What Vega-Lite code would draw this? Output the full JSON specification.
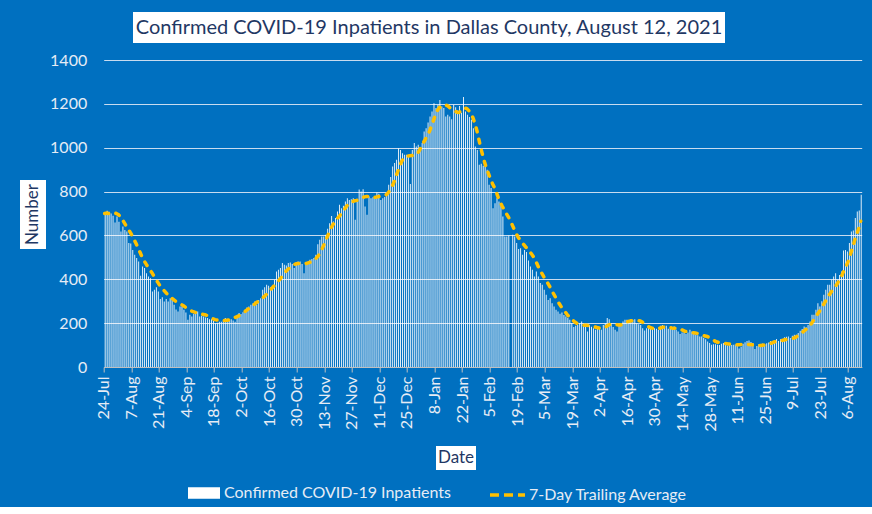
{
"$schema": "https://vega.github.io/schema/vega-lite/v6.json",
"background": "#0070C0",
"padding": {"left": 20, "top": 12, "right": 11, "bottom": 3},
"config": {"view": {"stroke": null}, "font": "Lato", "axis": {"labelOverlap": false}, "axisX": {"labelOverlap": false}},
"spacing": 9,
"datasets": {"covid": [
{"date":"2020-07-24","patients":705,"avg":700},{"date":"2020-07-25","patients":712,"avg":702},{"date":"2020-07-26","patients":708,"avg":700},{"date":"2020-07-27","patients":700,"avg":698},{"date":"2020-07-28","patients":690,"avg":700},{"date":"2020-07-29","patients":659,"avg":703},{"date":"2020-07-30","patients":686,"avg":700},{"date":"2020-07-31","patients":662,"avg":695},
{"date":"2020-08-01","patients":618,"avg":685},{"date":"2020-08-02","patients":641,"avg":672},{"date":"2020-08-03","patients":625,"avg":657},{"date":"2020-08-04","patients":618,"avg":642},{"date":"2020-08-05","patients":565,"avg":628},{"date":"2020-08-06","patients":563,"avg":614},{"date":"2020-08-07","patients":534,"avg":598},{"date":"2020-08-08","patients":512,"avg":580},{"date":"2020-08-09","patients":497,"avg":562},{"date":"2020-08-10","patients":481,"avg":542},{"date":"2020-08-11","patients":416,"avg":522},{"date":"2020-08-12","patients":458,"avg":502},{"date":"2020-08-13","patients":451,"avg":485},{"date":"2020-08-14","patients":428,"avg":470},{"date":"2020-08-15","patients":413,"avg":456},{"date":"2020-08-16","patients":405,"avg":443},{"date":"2020-08-17","patients":344,"avg":430},{"date":"2020-08-18","patients":352,"avg":415},{"date":"2020-08-19","patients":364,"avg":400},{"date":"2020-08-20","patients":344,"avg":386},{"date":"2020-08-21","patients":310,"avg":372},{"date":"2020-08-22","patients":318,"avg":362},{"date":"2020-08-23","patients":299,"avg":350},{"date":"2020-08-24","patients":310,"avg":340},{"date":"2020-08-25","patients":299,"avg":330},{"date":"2020-08-26","patients":314,"avg":322},{"date":"2020-08-27","patients":306,"avg":314},{"date":"2020-08-28","patients":284,"avg":307},{"date":"2020-08-29","patients":262,"avg":300},{"date":"2020-08-30","patients":253,"avg":295},{"date":"2020-08-31","patients":276,"avg":290},
{"date":"2020-09-01","patients":276,"avg":285},{"date":"2020-09-02","patients":261,"avg":279},{"date":"2020-09-03","patients":249,"avg":273},{"date":"2020-09-04","patients":215,"avg":267},{"date":"2020-09-05","patients":238,"avg":261},{"date":"2020-09-06","patients":230,"avg":256},{"date":"2020-09-07","patients":242,"avg":252},{"date":"2020-09-08","patients":249,"avg":249},{"date":"2020-09-09","patients":253,"avg":246},{"date":"2020-09-10","patients":230,"avg":244},{"date":"2020-09-11","patients":234,"avg":242},{"date":"2020-09-12","patients":230,"avg":240},{"date":"2020-09-13","patients":226,"avg":238},{"date":"2020-09-14","patients":223,"avg":235},{"date":"2020-09-15","patients":218,"avg":230},{"date":"2020-09-16","patients":218,"avg":225},{"date":"2020-09-17","patients":210,"avg":220},{"date":"2020-09-18","patients":200,"avg":216},{"date":"2020-09-19","patients":202,"avg":214},{"date":"2020-09-20","patients":206,"avg":212},{"date":"2020-09-21","patients":206,"avg":211},{"date":"2020-09-22","patients":212,"avg":211},{"date":"2020-09-23","patients":223,"avg":212},{"date":"2020-09-24","patients":218,"avg":213},{"date":"2020-09-25","patients":215,"avg":215},{"date":"2020-09-26","patients":218,"avg":218},{"date":"2020-09-27","patients":212,"avg":221},{"date":"2020-09-28","patients":206,"avg":225},{"date":"2020-09-29","patients":234,"avg":229},{"date":"2020-09-30","patients":246,"avg":233},
{"date":"2020-10-01","patients":242,"avg":238},{"date":"2020-10-02","patients":250,"avg":244},{"date":"2020-10-03","patients":261,"avg":251},{"date":"2020-10-04","patients":271,"avg":258},{"date":"2020-10-05","patients":276,"avg":265},{"date":"2020-10-06","patients":284,"avg":272},{"date":"2020-10-07","patients":290,"avg":279},{"date":"2020-10-08","patients":299,"avg":286},{"date":"2020-10-09","patients":284,"avg":293},{"date":"2020-10-10","patients":306,"avg":300},{"date":"2020-10-11","patients":314,"avg":307},{"date":"2020-10-12","patients":352,"avg":314},{"date":"2020-10-13","patients":364,"avg":321},{"date":"2020-10-14","patients":375,"avg":330},{"date":"2020-10-15","patients":370,"avg":340},{"date":"2020-10-16","patients":364,"avg":350},{"date":"2020-10-17","patients":357,"avg":360},{"date":"2020-10-18","patients":398,"avg":370},{"date":"2020-10-19","patients":436,"avg":380},{"date":"2020-10-20","patients":443,"avg":390},{"date":"2020-10-21","patients":451,"avg":400},{"date":"2020-10-22","patients":474,"avg":412},{"date":"2020-10-23","patients":466,"avg":424},{"date":"2020-10-24","patients":463,"avg":436},{"date":"2020-10-25","patients":474,"avg":445},{"date":"2020-10-26","patients":477,"avg":453},{"date":"2020-10-27","patients":470,"avg":460},{"date":"2020-10-28","patients":451,"avg":466},{"date":"2020-10-29","patients":475,"avg":470},{"date":"2020-10-30","patients":481,"avg":472},{"date":"2020-10-31","patients":481,"avg":472},
{"date":"2020-11-01","patients":470,"avg":471},{"date":"2020-11-02","patients":428,"avg":470},{"date":"2020-11-03","patients":474,"avg":471},{"date":"2020-11-04","patients":477,"avg":474},{"date":"2020-11-05","patients":489,"avg":477},{"date":"2020-11-06","patients":492,"avg":480},{"date":"2020-11-07","patients":497,"avg":485},{"date":"2020-11-08","patients":512,"avg":492},{"date":"2020-11-09","patients":560,"avg":502},{"date":"2020-11-10","patients":580,"avg":513},{"date":"2020-11-11","patients":595,"avg":530},{"date":"2020-11-12","patients":595,"avg":550},{"date":"2020-11-13","patients":603,"avg":570},{"date":"2020-11-14","patients":630,"avg":592},{"date":"2020-11-15","patients":656,"avg":614},{"date":"2020-11-16","patients":689,"avg":634},{"date":"2020-11-17","patients":663,"avg":650},{"date":"2020-11-18","patients":679,"avg":664},{"date":"2020-11-19","patients":709,"avg":676},{"date":"2020-11-20","patients":740,"avg":686},{"date":"2020-11-21","patients":724,"avg":697},{"date":"2020-11-22","patients":735,"avg":710},{"date":"2020-11-23","patients":755,"avg":722},{"date":"2020-11-24","patients":770,"avg":735},{"date":"2020-11-25","patients":762,"avg":746},{"date":"2020-11-26","patients":765,"avg":752},{"date":"2020-11-27","patients":770,"avg":755},{"date":"2020-11-28","patients":671,"avg":758},{"date":"2020-11-29","patients":755,"avg":760},{"date":"2020-11-30","patients":809,"avg":763},
{"date":"2020-12-01","patients":800,"avg":767},{"date":"2020-12-02","patients":811,"avg":772},{"date":"2020-12-03","patients":732,"avg":776},{"date":"2020-12-04","patients":694,"avg":778},{"date":"2020-12-05","patients":778,"avg":778},{"date":"2020-12-06","patients":770,"avg":776},{"date":"2020-12-07","patients":774,"avg":774},{"date":"2020-12-08","patients":778,"avg":774},{"date":"2020-12-09","patients":796,"avg":775},{"date":"2020-12-10","patients":790,"avg":777},{"date":"2020-12-11","patients":762,"avg":779},{"date":"2020-12-12","patients":770,"avg":781},{"date":"2020-12-13","patients":775,"avg":783},{"date":"2020-12-14","patients":782,"avg":786},{"date":"2020-12-15","patients":831,"avg":795},{"date":"2020-12-16","patients":866,"avg":808},{"date":"2020-12-17","patients":914,"avg":823},{"date":"2020-12-18","patients":930,"avg":845},{"date":"2020-12-19","patients":945,"avg":870},{"date":"2020-12-20","patients":998,"avg":895},{"date":"2020-12-21","patients":990,"avg":920},{"date":"2020-12-22","patients":975,"avg":940},{"date":"2020-12-23","patients":968,"avg":955},{"date":"2020-12-24","patients":968,"avg":960},{"date":"2020-12-25","patients":960,"avg":962},{"date":"2020-12-26","patients":834,"avg":963},{"date":"2020-12-27","patients":990,"avg":964},{"date":"2020-12-28","patients":1021,"avg":965},{"date":"2020-12-29","patients":1006,"avg":967},{"date":"2020-12-30","patients":1013,"avg":975},{"date":"2020-12-31","patients":998,"avg":990},
{"date":"2021-01-01","patients":1021,"avg":1010},{"date":"2021-01-02","patients":1074,"avg":1025},{"date":"2021-01-03","patients":1089,"avg":1040},{"date":"2021-01-04","patients":1115,"avg":1058},{"date":"2021-01-05","patients":1142,"avg":1075},{"date":"2021-01-06","patients":1165,"avg":1100},{"date":"2021-01-07","patients":1203,"avg":1125},{"date":"2021-01-08","patients":1181,"avg":1150},{"date":"2021-01-09","patients":1196,"avg":1170},{"date":"2021-01-10","patients":1218,"avg":1183},{"date":"2021-01-11","patients":1188,"avg":1190},{"date":"2021-01-12","patients":1181,"avg":1194},{"date":"2021-01-13","patients":1142,"avg":1196},{"date":"2021-01-14","patients":1150,"avg":1192},{"date":"2021-01-15","patients":1142,"avg":1185},{"date":"2021-01-16","patients":1130,"avg":1177},{"date":"2021-01-17","patients":1196,"avg":1170},{"date":"2021-01-18","patients":1185,"avg":1166},{"date":"2021-01-19","patients":1170,"avg":1162},{"date":"2021-01-20","patients":1190,"avg":1161},{"date":"2021-01-21","patients":1160,"avg":1168},{"date":"2021-01-22","patients":1231,"avg":1178},{"date":"2021-01-23","patients":1165,"avg":1181},{"date":"2021-01-24","patients":1150,"avg":1178},{"date":"2021-01-25","patients":1140,"avg":1168},{"date":"2021-01-26","patients":1127,"avg":1155},{"date":"2021-01-27","patients":1089,"avg":1138},{"date":"2021-01-28","patients":1006,"avg":1112},{"date":"2021-01-29","patients":990,"avg":1080},{"date":"2021-01-30","patients":922,"avg":1040},{"date":"2021-01-31","patients":927,"avg":1000},
{"date":"2021-02-01","patients":918,"avg":965},{"date":"2021-02-02","patients":933,"avg":932},{"date":"2021-02-03","patients":899,"avg":905},{"date":"2021-02-04","patients":831,"avg":880},{"date":"2021-02-05","patients":816,"avg":858},{"date":"2021-02-06","patients":724,"avg":836},{"date":"2021-02-07","patients":747,"avg":818},{"date":"2021-02-08","patients":770,"avg":795},{"date":"2021-02-09","patients":755,"avg":770},{"date":"2021-02-10","patients":740,"avg":750},{"date":"2021-02-11","patients":686,"avg":732},{"date":"2021-02-12","patients":595,"avg":716},{"date":"2021-02-13","patients":595,"avg":700},{"date":"2021-02-14","patients":600,"avg":685},{"date":"2021-02-15","patients":null,"avg":668},{"date":"2021-02-16","patients":603,"avg":648},{"date":"2021-02-17","patients":595,"avg":628},{"date":"2021-02-18","patients":565,"avg":608},{"date":"2021-02-19","patients":538,"avg":592},{"date":"2021-02-20","patients":542,"avg":580},{"date":"2021-02-21","patients":512,"avg":568},{"date":"2021-02-22","patients":534,"avg":557},{"date":"2021-02-23","patients":525,"avg":546},{"date":"2021-02-24","patients":486,"avg":535},{"date":"2021-02-25","patients":458,"avg":524},{"date":"2021-02-26","patients":443,"avg":513},{"date":"2021-02-27","patients":413,"avg":500},{"date":"2021-02-28","patients":436,"avg":482},
{"date":"2021-03-01","patients":413,"avg":462},{"date":"2021-03-02","patients":383,"avg":443},{"date":"2021-03-03","patients":375,"avg":428},{"date":"2021-03-04","patients":352,"avg":412},{"date":"2021-03-05","patients":329,"avg":397},{"date":"2021-03-06","patients":306,"avg":383},{"date":"2021-03-07","patients":314,"avg":368},{"date":"2021-03-08","patients":291,"avg":350},{"date":"2021-03-09","patients":276,"avg":334},{"date":"2021-03-10","patients":261,"avg":318},{"date":"2021-03-11","patients":253,"avg":302},{"date":"2021-03-12","patients":243,"avg":287},{"date":"2021-03-13","patients":249,"avg":273},{"date":"2021-03-14","patients":237,"avg":262},{"date":"2021-03-15","patients":230,"avg":250},{"date":"2021-03-16","patients":223,"avg":238},{"date":"2021-03-17","patients":215,"avg":228},{"date":"2021-03-18","patients":200,"avg":219},{"date":"2021-03-19","patients":182,"avg":211},{"date":"2021-03-20","patients":188,"avg":204},{"date":"2021-03-21","patients":192,"avg":198},{"date":"2021-03-22","patients":200,"avg":194},{"date":"2021-03-23","patients":208,"avg":192},{"date":"2021-03-24","patients":200,"avg":191},{"date":"2021-03-25","patients":182,"avg":190},{"date":"2021-03-26","patients":162,"avg":190},{"date":"2021-03-27","patients":192,"avg":189},{"date":"2021-03-28","patients":183,"avg":188},{"date":"2021-03-29","patients":177,"avg":186},{"date":"2021-03-30","patients":170,"avg":183},{"date":"2021-03-31","patients":177,"avg":180},
{"date":"2021-04-01","patients":177,"avg":178},{"date":"2021-04-02","patients":170,"avg":177},{"date":"2021-04-03","patients":192,"avg":177},{"date":"2021-04-04","patients":200,"avg":180},{"date":"2021-04-05","patients":223,"avg":186},{"date":"2021-04-06","patients":218,"avg":192},{"date":"2021-04-07","patients":200,"avg":195},{"date":"2021-04-08","patients":182,"avg":196},{"date":"2021-04-09","patients":170,"avg":195},{"date":"2021-04-10","patients":162,"avg":193},{"date":"2021-04-11","patients":192,"avg":192},{"date":"2021-04-12","patients":200,"avg":192},{"date":"2021-04-13","patients":208,"avg":195},{"date":"2021-04-14","patients":215,"avg":200},{"date":"2021-04-15","patients":215,"avg":205},{"date":"2021-04-16","patients":208,"avg":208},{"date":"2021-04-17","patients":218,"avg":210},{"date":"2021-04-18","patients":215,"avg":211},{"date":"2021-04-19","patients":218,"avg":212},{"date":"2021-04-20","patients":200,"avg":212},{"date":"2021-04-21","patients":195,"avg":211},{"date":"2021-04-22","patients":192,"avg":210},{"date":"2021-04-23","patients":177,"avg":205},{"date":"2021-04-24","patients":167,"avg":198},{"date":"2021-04-25","patients":177,"avg":191},{"date":"2021-04-26","patients":182,"avg":185},{"date":"2021-04-27","patients":177,"avg":180},{"date":"2021-04-28","patients":170,"avg":177},{"date":"2021-04-29","patients":177,"avg":175},{"date":"2021-04-30","patients":175,"avg":173},
{"date":"2021-05-01","patients":170,"avg":174},{"date":"2021-05-02","patients":188,"avg":177},{"date":"2021-05-03","patients":192,"avg":180},{"date":"2021-05-04","patients":182,"avg":182},{"date":"2021-05-05","patients":188,"avg":183},{"date":"2021-05-06","patients":175,"avg":182},{"date":"2021-05-07","patients":173,"avg":180},{"date":"2021-05-08","patients":177,"avg":178},{"date":"2021-05-09","patients":185,"avg":177},{"date":"2021-05-10","patients":170,"avg":177},{"date":"2021-05-11","patients":162,"avg":177},{"date":"2021-05-12","patients":151,"avg":174},{"date":"2021-05-13","patients":157,"avg":170},{"date":"2021-05-14","patients":157,"avg":166},{"date":"2021-05-15","patients":151,"avg":162},{"date":"2021-05-16","patients":157,"avg":160},{"date":"2021-05-17","patients":170,"avg":158},{"date":"2021-05-18","patients":162,"avg":157},{"date":"2021-05-19","patients":157,"avg":156},{"date":"2021-05-20","patients":147,"avg":155},{"date":"2021-05-21","patients":145,"avg":153},{"date":"2021-05-22","patients":139,"avg":150},{"date":"2021-05-23","patients":139,"avg":147},{"date":"2021-05-24","patients":132,"avg":144},{"date":"2021-05-25","patients":127,"avg":141},{"date":"2021-05-26","patients":116,"avg":139},{"date":"2021-05-27","patients":109,"avg":135},{"date":"2021-05-28","patients":101,"avg":130},{"date":"2021-05-29","patients":104,"avg":124},{"date":"2021-05-30","patients":104,"avg":118},{"date":"2021-05-31","patients":101,"avg":114},
{"date":"2021-06-01","patients":100,"avg":112},{"date":"2021-06-02","patients":106,"avg":110},{"date":"2021-06-03","patients":109,"avg":108},{"date":"2021-06-04","patients":104,"avg":107},{"date":"2021-06-05","patients":98,"avg":106},{"date":"2021-06-06","patients":106,"avg":105},{"date":"2021-06-07","patients":100,"avg":104},{"date":"2021-06-08","patients":102,"avg":103},{"date":"2021-06-09","patients":103,"avg":102},{"date":"2021-06-10","patients":99,"avg":101},{"date":"2021-06-11","patients":84,"avg":101},{"date":"2021-06-12","patients":92,"avg":102},{"date":"2021-06-13","patients":106,"avg":103},{"date":"2021-06-14","patients":113,"avg":103},{"date":"2021-06-15","patients":118,"avg":103},{"date":"2021-06-16","patients":121,"avg":103},{"date":"2021-06-17","patients":114,"avg":102},{"date":"2021-06-18","patients":110,"avg":101},{"date":"2021-06-19","patients":82,"avg":99},{"date":"2021-06-20","patients":96,"avg":98},{"date":"2021-06-21","patients":104,"avg":98},{"date":"2021-06-22","patients":103,"avg":98},{"date":"2021-06-23","patients":107,"avg":99},{"date":"2021-06-24","patients":104,"avg":100},{"date":"2021-06-25","patients":108,"avg":102},{"date":"2021-06-26","patients":112,"avg":104},{"date":"2021-06-27","patients":118,"avg":107},{"date":"2021-06-28","patients":119,"avg":110},{"date":"2021-06-29","patients":123,"avg":114},{"date":"2021-06-30","patients":128,"avg":117},
{"date":"2021-07-01","patients":118,"avg":119},{"date":"2021-07-02","patients":126,"avg":120},{"date":"2021-07-03","patients":128,"avg":121},{"date":"2021-07-04","patients":136,"avg":123},{"date":"2021-07-05","patients":138,"avg":125},{"date":"2021-07-06","patients":139,"avg":126},{"date":"2021-07-07","patients":132,"avg":127},{"date":"2021-07-08","patients":142,"avg":129},{"date":"2021-07-09","patients":147,"avg":132},{"date":"2021-07-10","patients":147,"avg":136},{"date":"2021-07-11","patients":155,"avg":142},{"date":"2021-07-12","patients":165,"avg":148},{"date":"2021-07-13","patients":173,"avg":155},{"date":"2021-07-14","patients":185,"avg":163},{"date":"2021-07-15","patients":181,"avg":170},{"date":"2021-07-16","patients":192,"avg":178},{"date":"2021-07-17","patients":208,"avg":186},{"date":"2021-07-18","patients":238,"avg":198},{"date":"2021-07-19","patients":238,"avg":212},{"date":"2021-07-20","patients":261,"avg":226},{"date":"2021-07-21","patients":291,"avg":240},{"date":"2021-07-22","patients":276,"avg":253},{"date":"2021-07-23","patients":300,"avg":268},{"date":"2021-07-24","patients":329,"avg":283},{"date":"2021-07-25","patients":352,"avg":298},{"date":"2021-07-26","patients":375,"avg":314},{"date":"2021-07-27","patients":375,"avg":329},{"date":"2021-07-28","patients":398,"avg":342},{"date":"2021-07-29","patients":413,"avg":354},{"date":"2021-07-30","patients":428,"avg":366},{"date":"2021-07-31","patients":398,"avg":378},
{"date":"2021-08-01","patients":420,"avg":395},{"date":"2021-08-02","patients":436,"avg":408},{"date":"2021-08-03","patients":531,"avg":430},{"date":"2021-08-04","patients":534,"avg":450},{"date":"2021-08-05","patients":527,"avg":468},{"date":"2021-08-06","patients":565,"avg":490},{"date":"2021-08-07","patients":618,"avg":520},{"date":"2021-08-08","patients":622,"avg":548},{"date":"2021-08-09","patients":679,"avg":580},{"date":"2021-08-10","patients":709,"avg":606},{"date":"2021-08-11","patients":714,"avg":632},{"date":"2021-08-12","patients":785,"avg":665}
]},
"vconcat": [
 {"spacing": 112, "hconcat": [
   {"width": 1, "height": 31, "data": {"values": [{"s": ""}]}, "mark": "text", "encoding": {"text": {"field": "s"}}},
   {"width": 592, "height": 31, "view": {"fill": "white", "stroke": null},
    "data": {"values": [{"label": "Confirmed COVID-19 Inpatients in Dallas County, August 12, 2021"}]},
    "mark": {"type": "text", "font": "Lato", "fontSize": 20, "color": "#1F3864"},
    "encoding": {"text": {"field": "label"}}}
 ]},
 {"spacing": 14, "vconcat": [
   {"spacing": 2.7, "hconcat": [
     {"spacing": 0, "vconcat": [
       {"width": 26, "height": 120, "data": {"values": [{"s": ""}]}, "mark": "text", "encoding": {"text": {"field": "s"}}},
       {"width": 26, "height": 69, "view": {"fill": "white", "stroke": null},
        "data": {"values": [{"label": "Number"}]},
        "mark": {"type": "text", "font": "Lato", "fontSize": 17, "angle": 270, "color": "#1F3864"},
        "encoding": {"text": {"field": "label"}}}
     ]},
     {"width": 758, "height": 307,
      "data": {"name": "covid"},
      "encoding": {
        "x": {"field": "date", "type": "temporal", "timeUnit": "utcyearmonthdate",
              "scale": {"domain": [{"year": 2020, "month": 7, "date": 24, "utc": true}, {"year": 2021, "month": 8, "date": 13, "utc": true}], "nice": false},
              "axis": {"title": null, "grid": false,
                "values": [
                  {"year":2020,"month":7,"date":24,"utc":true},{"year":2020,"month":8,"date":7,"utc":true},{"year":2020,"month":8,"date":21,"utc":true},{"year":2020,"month":9,"date":4,"utc":true},{"year":2020,"month":9,"date":18,"utc":true},{"year":2020,"month":10,"date":2,"utc":true},{"year":2020,"month":10,"date":16,"utc":true},{"year":2020,"month":10,"date":30,"utc":true},{"year":2020,"month":11,"date":13,"utc":true},{"year":2020,"month":11,"date":27,"utc":true},{"year":2020,"month":12,"date":11,"utc":true},{"year":2020,"month":12,"date":25,"utc":true},
                  {"year":2021,"month":1,"date":8,"utc":true},{"year":2021,"month":1,"date":22,"utc":true},{"year":2021,"month":2,"date":5,"utc":true},{"year":2021,"month":2,"date":19,"utc":true},{"year":2021,"month":3,"date":5,"utc":true},{"year":2021,"month":3,"date":19,"utc":true},{"year":2021,"month":4,"date":2,"utc":true},{"year":2021,"month":4,"date":16,"utc":true},{"year":2021,"month":4,"date":30,"utc":true},{"year":2021,"month":5,"date":14,"utc":true},{"year":2021,"month":5,"date":28,"utc":true},{"year":2021,"month":6,"date":11,"utc":true},{"year":2021,"month":6,"date":25,"utc":true},{"year":2021,"month":7,"date":9,"utc":true},{"year":2021,"month":7,"date":23,"utc":true},{"year":2021,"month":8,"date":6,"utc":true}],
                "labelExpr": "utcFormat(datum.value, '%-d-%b')",
                "labelAngle": 270, "labelFont": "Lato", "labelFontSize": 16, "labelColor": "#E6ECF5",
                "labelPadding": 4, "labelOverlap": false, "labelFlush": false, "labelBound": false,
                "domainColor": "#BFBFBF", "tickColor": "#BFBFBF", "tickSize": 5}}
      },
      "layer": [
        {"mark": {"type": "bar", "opacity": 0.9},
         "encoding": {
           "y": {"field": "patients", "type": "quantitative", "scale": {"domain": [0, 1400]},
                 "axis": {"title": null, "values": [0, 200, 400, 600, 800, 1000, 1200, 1400], "format": "d",
                   "domain": false, "ticks": false, "labelPadding": 17,
                   "labelFont": "Lato", "labelFontSize": 16, "labelColor": "#E6ECF5",
                   "gridColor": "#C8DCF0", "gridWidth": 1}},
           "fill": {"datum": "Confirmed COVID-19 Inpatients", "scale": {"range": ["#FFFFFF"]},
                    "legend": {"orient": "none", "legendX": 168, "legendY": 465, "title": null, "padding": 0,
                      "symbolType": "M-1,-0.36H1V0.36H-1Z", "symbolSize": 1024, "symbolStrokeWidth": 0, "symbolOpacity": 1,
                      "labelFont": "Lato", "labelFontSize": 16, "labelColor": "#E6ECF5", "labelOffset": 4, "labelLimit": 500}}
         }},
        {"mark": {"type": "line", "strokeWidth": 3.5, "strokeDash": [4, 7.5], "strokeCap": "round"},
         "encoding": {
           "x": {"field": "date", "type": "temporal", "timeUnit": "utcyearmonthdate", "bandPosition": 0.5},
           "y": {"field": "avg", "type": "quantitative"},
           "stroke": {"datum": "7-Day Trailing Average", "scale": {"range": ["#FFC000"]},
                      "legend": {"orient": "none", "legendX": 468, "legendY": 463.5, "title": null, "padding": 0,
                        "symbolType": "stroke", "symbolSize": 1225, "symbolStrokeWidth": 3.5, "symbolDash": [9, 5],
                        "labelFont": "Lato", "labelFontSize": 16, "labelColor": "#E6ECF5", "labelOffset": 2, "labelLimit": 500}}
         }}
      ]}
   ]},
   {"spacing": 415, "hconcat": [
     {"width": 1, "height": 24, "data": {"values": [{"s": ""}]}, "mark": "text", "encoding": {"text": {"field": "s"}}},
     {"width": 40, "height": 24, "view": {"fill": "white", "stroke": null},
      "data": {"values": [{"label": "Date"}]},
      "mark": {"type": "text", "font": "Lato", "fontSize": 17, "color": "#1F3864"},
      "encoding": {"text": {"field": "label"}}}
   ]}
 ]}
]
}
